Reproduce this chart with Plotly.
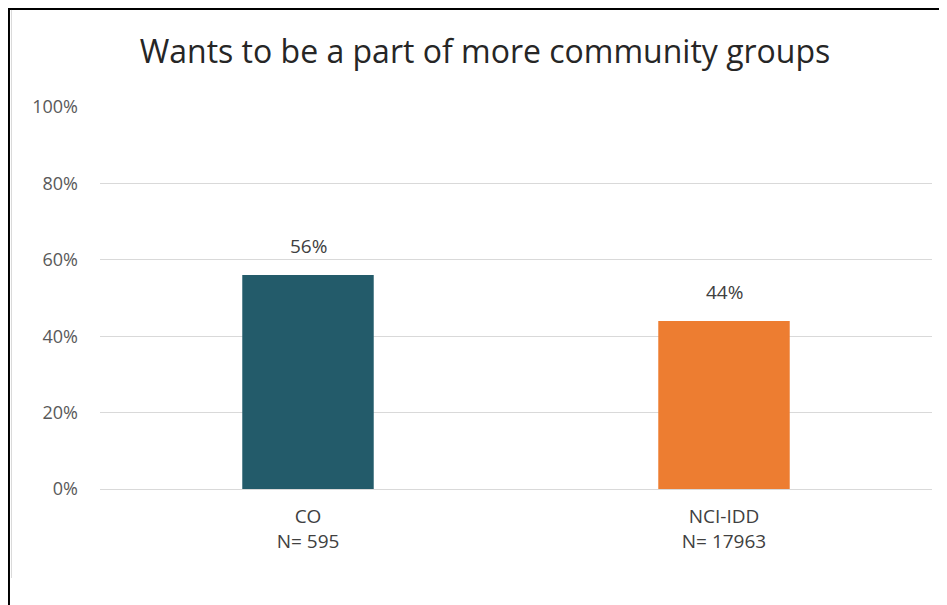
import plotly.graph_objects as go

# 데이터
categories = ["CO", "NCI-IDD"]
sample_sizes = ["595", "17963"]
values = [56, 44]
bar_colors = ["#235B6A", "#ED7D31"]
y_ticks = [0, 20, 40, 60, 80, 100]
y_tick_labels = ["0%", "20%", "40%", "60%", "80%", "100%"]

tick_text = [f"{c}<br>N= {n}" for c, n in zip(categories, sample_sizes)]

fig = go.Figure()
fig.add_trace(go.Bar(x=categories, y=values, marker_color=bar_colors,
                     marker_line_width=0, width=0.316, showlegend=False))

# 막대 위 값 라벨
for c, v in zip(categories, values):
    fig.add_annotation(x=c, y=v, text=f"{v}%", showarrow=False,
                       yanchor="bottom", yshift=14,
                       font=dict(size=19, color="#404040"))

# 바깥 테두리 선 (페이지 body 여백 8px 고려)
fig.add_shape(type="line", xref="paper", yref="paper", x0=-0.111, x1=1.03, y0=1.2565, y1=1.2565,
              line=dict(color="black", width=2))
fig.add_shape(type="line", xref="paper", yref="paper", x0=-0.1094, x1=-0.1094, y0=1.26, y1=-0.31,
              line=dict(color="black", width=2))
fig.add_shape(type="line", xref="paper", yref="paper", x0=-0.1064, x1=-0.1064, y0=1.254, y1=-0.233,
              line=dict(color="#D9D9D9", width=1))

fig.update_layout(
    width=939, height=597,
    margin=dict(l=92, r=15, t=99, b=116),
    paper_bgcolor="white", plot_bgcolor="white",
    font=dict(family="Open Sans, Noto Sans, sans-serif", color="#595959"),
    title=dict(text="Wants to be a part of more community groups", x=0.508, xanchor="center",
               y=0.926, yanchor="middle", font=dict(size=32, color="#262626")),
    bargap=0.684,
    xaxis=dict(tickmode="array", tickvals=categories, ticktext=tick_text,
               tickfont=dict(size=19, color="#404040"), showgrid=False, zeroline=False,
               showline=False, ticks="", ticklabelstandoff=14),
    yaxis=dict(range=[0, 100], tickmode="array", tickvals=y_ticks, ticktext=y_tick_labels,
               tickfont=dict(size=18, color="#595959"), gridcolor="#D9D9D9", gridwidth=1,
               zeroline=True, zerolinecolor="#D9D9D9", zerolinewidth=1,
               showline=False, ticks="", ticklabelstandoff=21),
)

fig.write_html("out.html")
